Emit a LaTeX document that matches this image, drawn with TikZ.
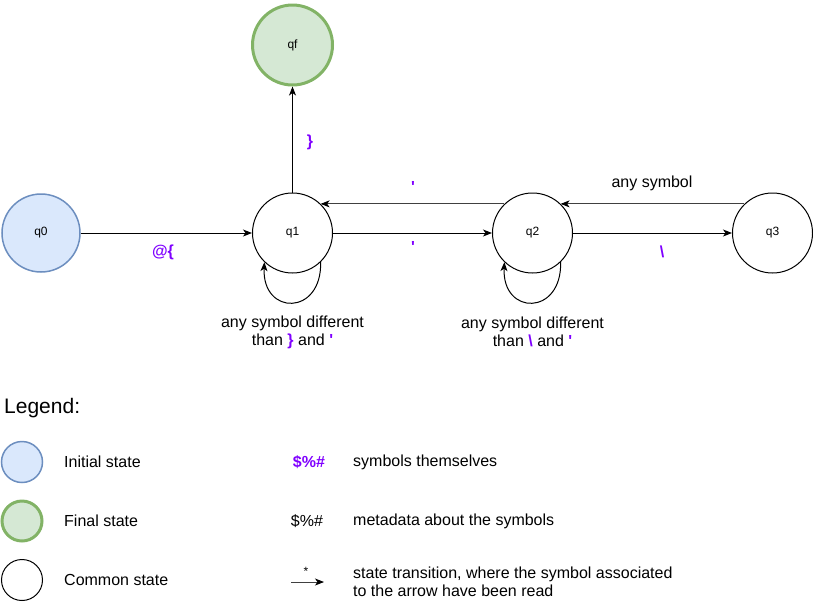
\documentclass[tikz,border=0pt]{standalone}
\usepackage{fontspec}
\setmainfont{Liberation Sans}[Ligatures=TeXOff]
\usetikzlibrary{arrows.meta}
\definecolor{purp}{RGB}{127,0,255}
\definecolor{blfill}{HTML}{DAE8FC}
\definecolor{bldraw}{HTML}{6C8EBF}
\definecolor{grfill}{HTML}{D5E8D4}
\definecolor{grdraw}{HTML}{82B366}
\begin{document}
\begin{tikzpicture}[x=1pt,y=-1pt,
 state/.style={circle,draw=black,line width=1pt,minimum size=80pt,inner sep=0pt,font=\fontsize{12}{14}\selectfont},
 init/.style={state,fill=blfill,draw=bldraw,line width=1.5pt},
 final/.style={state,fill=grfill,draw=grdraw,line width=3pt},
 tr/.style={line width=1pt,-{Stealth[length=9pt,width=7pt,inset=2.5pt,color=black]}},
 sym/.style={text=purp,font=\fontsize{16}{18}\bfseries\selectfont,inner sep=0pt},
 lbl/.style={font=\fontsize{16}{18}\selectfont,align=center,inner sep=0pt},
 lgt/.style={font=\fontsize{16}{18}\selectfont,align=left,anchor=west,inner sep=0pt},
]
\useasboundingbox (0,0) rectangle (813,603);
% states
\node[init,minimum size=78pt] (q0) at (41,233) {q0};
\node[state] (q1) at (292.5,233) {q1};
\node[state] (q2) at (532.5,233) {q2};
\node[state] (q3) at (772.5,233) {q3};
\node[final] (qf) at (292.5,45) {qf};
% transitions
\draw[tr] (q0) -- (q1);
\draw[tr] (q1) -- (qf);
\draw[tr] (q1) -- (q2);
\draw[tr] (q2) -- (q3);
\draw[tr,draw=black!75] (q2.134) -- (q1.46);
\draw[tr,draw=black!75] (q3.134) -- (q2.46);
\draw[tr] (q1.-46) .. controls (322,316) and (262,316) .. (q1.-134);
\draw[tr] (q2.-46) .. controls (562,316) and (502,316) .. (q2.-134);
% labels
\node[sym] (l1) at (163,252) {@\{};
\node[sym] (l2) at (310,142) {\}};
\node[sym] (l3) at (413,187) {'};
\node[sym] (l4) at (413,247) {'};
\node[sym] (l5) at (662,252) {\textbackslash};
\node[lbl] (l6) at (652,183) {any symbol};
\node[lbl] (l7) at (292.5,332) {any symbol different\\than {\color{purp}\bfseries\}} and {\color{purp}\bfseries'}};
\node[lbl] (l8) at (532.5,332) {any symbol different\\than {\color{purp}\bfseries\textbackslash} and {\color{purp}\bfseries'}};
% legend
\node[anchor=west,font=\fontsize{21}{24}\selectfont,inner sep=0pt] (leg) at (4,408) {Legend:};
\node[init,minimum size=41pt] (li) at (22,462) {};
\node[final,minimum size=40pt] (lf) at (22,521) {};
\node[state,minimum size=41pt] (lc) at (22,580) {};
\node[lgt] (ti) at (64,462) {Initial state};
\node[lgt] (tf) at (64,521) {Final state};
\node[lgt] (tc) at (64,580) {Common state};
\node[sym] (s1) at (309,462) {\$\%\#};
\node[lbl] (s2) at (307,521) {\$\%\#};
\coordinate (a1) at (291,582);
\coordinate (a2) at (324,582);
\draw[tr,draw=black!75] (a1) -- (a2);
\node[font=\fontsize{12}{14}\selectfont,inner sep=0pt] (st) at (306,571) {*};
\node[lgt] (d1) at (353,462) {symbols themselves};
\node[lgt] (d2) at (353,521) {metadata about the symbols};
\node[lgt] (d3) at (353,582) {state transition, where the symbol associated\\to the arrow have been read};
\end{tikzpicture}
\end{document}
